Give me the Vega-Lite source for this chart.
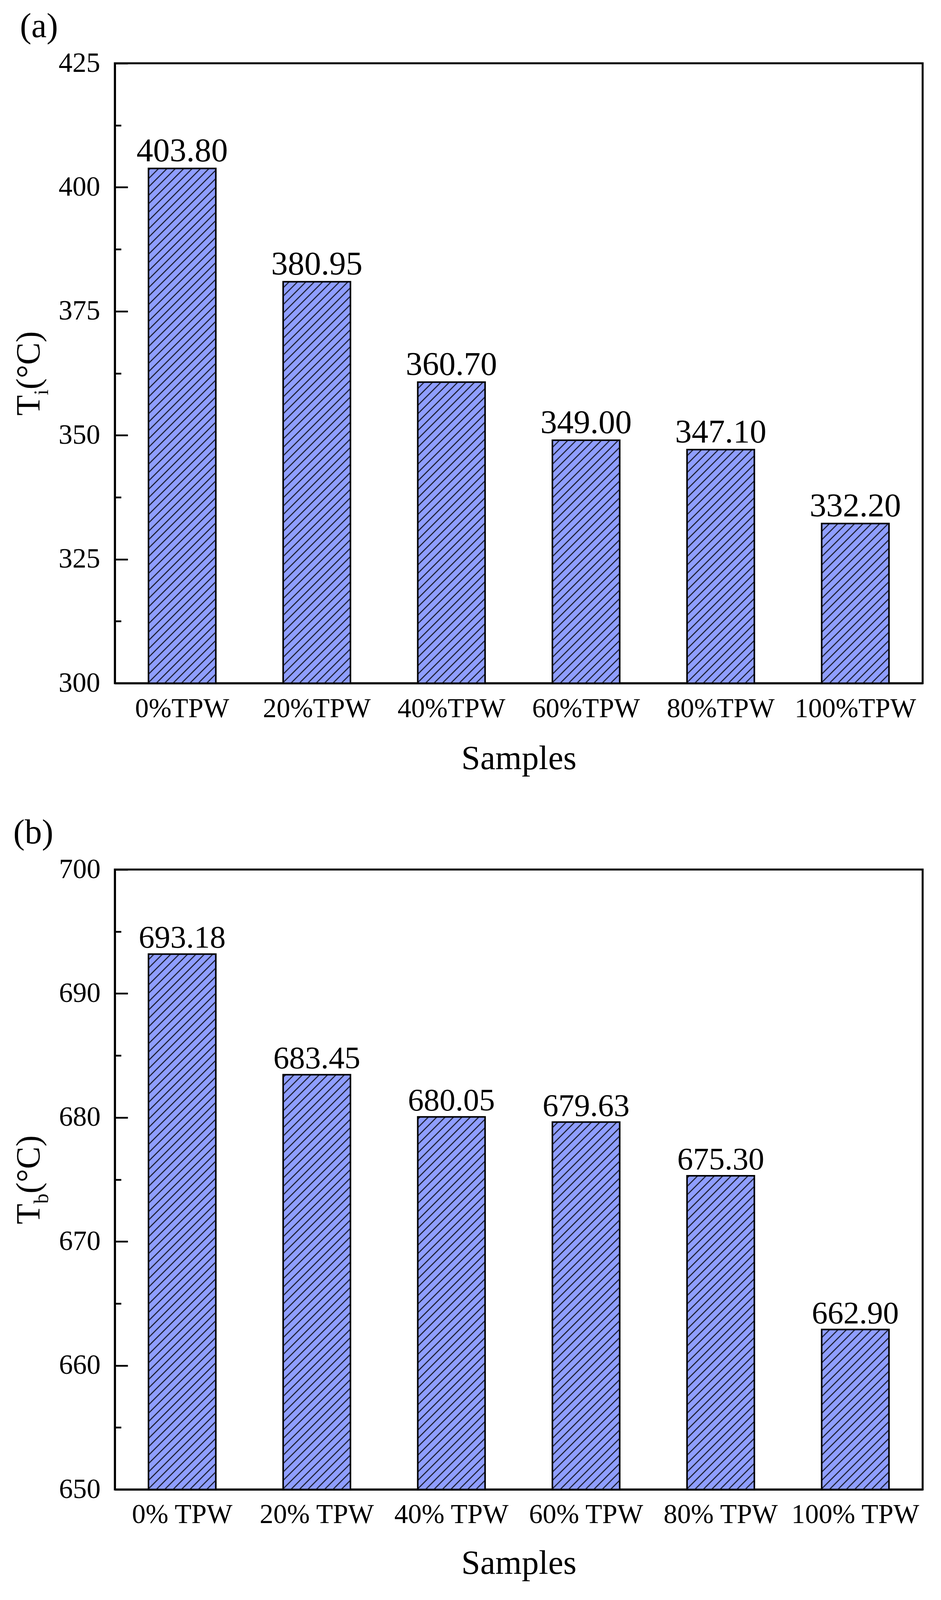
{
"$schema": "https://vega.github.io/schema/vega-lite/v6.json",
"background": "white",
"padding": {"left": 28, "top": 22, "right": 40, "bottom": 10},
"spacing": 98,
"datasets": {
"a": [
{"Sample": "0%TPW", "value": 403.80},
{"Sample": "20%TPW", "value": 380.95},
{"Sample": "40%TPW", "value": 360.70},
{"Sample": "60%TPW", "value": 349.00},
{"Sample": "80%TPW", "value": 347.10},
{"Sample": "100%TPW", "value": 332.20}
],
"b": [
{"Sample": "0% TPW", "value": 693.18},
{"Sample": "20% TPW", "value": 683.45},
{"Sample": "40% TPW", "value": 680.05},
{"Sample": "60% TPW", "value": 679.63},
{"Sample": "80% TPW", "value": 675.30},
{"Sample": "100% TPW", "value": 662.90}
]
},
"vconcat": [
{
"data": {"name": "a"},
"width": 2068,
"height": 1587,
"title": {"text": "(a)", "dx": -243},
"encoding": {
"x": {"field": "Sample", "type": "nominal", "sort": null,
"scale": {"paddingInner": 0.5, "paddingOuter": 0.25},
"axis": {"orient": "bottom", "zindex": 1, "domain": true, "domainColor": "#000", "domainWidth": 5, "ticks": false, "tickSize": 0, "labelAngle": 0, "labelFontSize": 70, "labelBaseline": "alphabetic", "labelPadding": 86, "labelLimit": 0, "title": "Samples", "titleFontSize": 87, "titleBaseline": "alphabetic", "titleY": 219}}
},
"layer": [
{"mark": {"type": "bar", "strokeWidth": 0, "fill": {"gradient": "linear", "x1": 0, "y1": 0, "x2": 0.12846, "y2": 1.1735, "stops": [
{"offset": 0, "color": "#8f9eff"}, {"offset": 0.0017, "color": "#000"}, {"offset": 0.0034, "color": "#8f9eff"},
{"offset": 0.0115, "color": "#8f9eff"}, {"offset": 0.0132, "color": "#000"}, {"offset": 0.0149, "color": "#8f9eff"},
{"offset": 0.023, "color": "#8f9eff"}, {"offset": 0.0247, "color": "#000"}, {"offset": 0.0264, "color": "#8f9eff"},
{"offset": 0.0345, "color": "#8f9eff"}, {"offset": 0.0362, "color": "#000"}, {"offset": 0.0379, "color": "#8f9eff"},
{"offset": 0.046, "color": "#8f9eff"}, {"offset": 0.0477, "color": "#000"}, {"offset": 0.0494, "color": "#8f9eff"},
{"offset": 0.0575, "color": "#8f9eff"}, {"offset": 0.0592, "color": "#000"}, {"offset": 0.0609, "color": "#8f9eff"},
{"offset": 0.069, "color": "#8f9eff"}, {"offset": 0.0707, "color": "#000"}, {"offset": 0.0724, "color": "#8f9eff"},
{"offset": 0.0805, "color": "#8f9eff"}, {"offset": 0.0822, "color": "#000"}, {"offset": 0.0839, "color": "#8f9eff"},
{"offset": 0.092, "color": "#8f9eff"}, {"offset": 0.0937, "color": "#000"}, {"offset": 0.0954, "color": "#8f9eff"},
{"offset": 0.1035, "color": "#8f9eff"}, {"offset": 0.1052, "color": "#000"}, {"offset": 0.1069, "color": "#8f9eff"},
{"offset": 0.115, "color": "#8f9eff"}, {"offset": 0.1167, "color": "#000"}, {"offset": 0.1184, "color": "#8f9eff"},
{"offset": 0.1265, "color": "#8f9eff"}, {"offset": 0.1282, "color": "#000"}, {"offset": 0.1299, "color": "#8f9eff"},
{"offset": 0.138, "color": "#8f9eff"}, {"offset": 0.1397, "color": "#000"}, {"offset": 0.1414, "color": "#8f9eff"},
{"offset": 0.1495, "color": "#8f9eff"}, {"offset": 0.1512, "color": "#000"}, {"offset": 0.1529, "color": "#8f9eff"},
{"offset": 0.161, "color": "#8f9eff"}, {"offset": 0.1627, "color": "#000"}, {"offset": 0.1644, "color": "#8f9eff"},
{"offset": 0.1725, "color": "#8f9eff"}, {"offset": 0.1742, "color": "#000"}, {"offset": 0.1759, "color": "#8f9eff"},
{"offset": 0.184, "color": "#8f9eff"}, {"offset": 0.1857, "color": "#000"}, {"offset": 0.1874, "color": "#8f9eff"},
{"offset": 0.1955, "color": "#8f9eff"}, {"offset": 0.1972, "color": "#000"}, {"offset": 0.1989, "color": "#8f9eff"},
{"offset": 0.207, "color": "#8f9eff"}, {"offset": 0.2087, "color": "#000"}, {"offset": 0.2104, "color": "#8f9eff"},
{"offset": 0.2185, "color": "#8f9eff"}, {"offset": 0.2202, "color": "#000"}, {"offset": 0.2219, "color": "#8f9eff"},
{"offset": 0.23, "color": "#8f9eff"}, {"offset": 0.2317, "color": "#000"}, {"offset": 0.2334, "color": "#8f9eff"},
{"offset": 0.2415, "color": "#8f9eff"}, {"offset": 0.2432, "color": "#000"}, {"offset": 0.2449, "color": "#8f9eff"},
{"offset": 0.253, "color": "#8f9eff"}, {"offset": 0.2547, "color": "#000"}, {"offset": 0.2564, "color": "#8f9eff"},
{"offset": 0.2645, "color": "#8f9eff"}, {"offset": 0.2662, "color": "#000"}, {"offset": 0.2679, "color": "#8f9eff"},
{"offset": 0.276, "color": "#8f9eff"}, {"offset": 0.2777, "color": "#000"}, {"offset": 0.2794, "color": "#8f9eff"},
{"offset": 0.2875, "color": "#8f9eff"}, {"offset": 0.2892, "color": "#000"}, {"offset": 0.2909, "color": "#8f9eff"},
{"offset": 0.299, "color": "#8f9eff"}, {"offset": 0.3007, "color": "#000"}, {"offset": 0.3024, "color": "#8f9eff"},
{"offset": 0.3105, "color": "#8f9eff"}, {"offset": 0.3122, "color": "#000"}, {"offset": 0.3139, "color": "#8f9eff"},
{"offset": 0.322, "color": "#8f9eff"}, {"offset": 0.3237, "color": "#000"}, {"offset": 0.3254, "color": "#8f9eff"},
{"offset": 0.3335, "color": "#8f9eff"}, {"offset": 0.3352, "color": "#000"}, {"offset": 0.3369, "color": "#8f9eff"},
{"offset": 0.345, "color": "#8f9eff"}, {"offset": 0.3467, "color": "#000"}, {"offset": 0.3484, "color": "#8f9eff"},
{"offset": 0.3565, "color": "#8f9eff"}, {"offset": 0.3582, "color": "#000"}, {"offset": 0.3599, "color": "#8f9eff"},
{"offset": 0.368, "color": "#8f9eff"}, {"offset": 0.3697, "color": "#000"}, {"offset": 0.3714, "color": "#8f9eff"},
{"offset": 0.3795, "color": "#8f9eff"}, {"offset": 0.3812, "color": "#000"}, {"offset": 0.3829, "color": "#8f9eff"},
{"offset": 0.391, "color": "#8f9eff"}, {"offset": 0.3927, "color": "#000"}, {"offset": 0.3944, "color": "#8f9eff"},
{"offset": 0.4025, "color": "#8f9eff"}, {"offset": 0.4042, "color": "#000"}, {"offset": 0.4059, "color": "#8f9eff"},
{"offset": 0.414, "color": "#8f9eff"}, {"offset": 0.4157, "color": "#000"}, {"offset": 0.4174, "color": "#8f9eff"},
{"offset": 0.4255, "color": "#8f9eff"}, {"offset": 0.4272, "color": "#000"}, {"offset": 0.4289, "color": "#8f9eff"},
{"offset": 0.437, "color": "#8f9eff"}, {"offset": 0.4387, "color": "#000"}, {"offset": 0.4404, "color": "#8f9eff"},
{"offset": 0.4485, "color": "#8f9eff"}, {"offset": 0.4502, "color": "#000"}, {"offset": 0.4519, "color": "#8f9eff"},
{"offset": 0.46, "color": "#8f9eff"}, {"offset": 0.4617, "color": "#000"}, {"offset": 0.4634, "color": "#8f9eff"},
{"offset": 0.4715, "color": "#8f9eff"}, {"offset": 0.4732, "color": "#000"}, {"offset": 0.4749, "color": "#8f9eff"},
{"offset": 0.483, "color": "#8f9eff"}, {"offset": 0.4847, "color": "#000"}, {"offset": 0.4864, "color": "#8f9eff"},
{"offset": 0.4945, "color": "#8f9eff"}, {"offset": 0.4962, "color": "#000"}, {"offset": 0.4979, "color": "#8f9eff"},
{"offset": 0.506, "color": "#8f9eff"}, {"offset": 0.5077, "color": "#000"}, {"offset": 0.5094, "color": "#8f9eff"},
{"offset": 0.5175, "color": "#8f9eff"}, {"offset": 0.5192, "color": "#000"}, {"offset": 0.5209, "color": "#8f9eff"},
{"offset": 0.529, "color": "#8f9eff"}, {"offset": 0.5307, "color": "#000"}, {"offset": 0.5324, "color": "#8f9eff"},
{"offset": 0.5405, "color": "#8f9eff"}, {"offset": 0.5422, "color": "#000"}, {"offset": 0.5439, "color": "#8f9eff"},
{"offset": 0.552, "color": "#8f9eff"}, {"offset": 0.5537, "color": "#000"}, {"offset": 0.5554, "color": "#8f9eff"},
{"offset": 0.5635, "color": "#8f9eff"}, {"offset": 0.5652, "color": "#000"}, {"offset": 0.5669, "color": "#8f9eff"},
{"offset": 0.575, "color": "#8f9eff"}, {"offset": 0.5767, "color": "#000"}, {"offset": 0.5784, "color": "#8f9eff"},
{"offset": 0.5865, "color": "#8f9eff"}, {"offset": 0.5882, "color": "#000"}, {"offset": 0.5899, "color": "#8f9eff"},
{"offset": 0.598, "color": "#8f9eff"}, {"offset": 0.5997, "color": "#000"}, {"offset": 0.6014, "color": "#8f9eff"},
{"offset": 0.6095, "color": "#8f9eff"}, {"offset": 0.6112, "color": "#000"}, {"offset": 0.6129, "color": "#8f9eff"},
{"offset": 0.621, "color": "#8f9eff"}, {"offset": 0.6227, "color": "#000"}, {"offset": 0.6244, "color": "#8f9eff"},
{"offset": 0.6325, "color": "#8f9eff"}, {"offset": 0.6342, "color": "#000"}, {"offset": 0.6359, "color": "#8f9eff"},
{"offset": 0.644, "color": "#8f9eff"}, {"offset": 0.6457, "color": "#000"}, {"offset": 0.6474, "color": "#8f9eff"},
{"offset": 0.6555, "color": "#8f9eff"}, {"offset": 0.6572, "color": "#000"}, {"offset": 0.6589, "color": "#8f9eff"},
{"offset": 0.667, "color": "#8f9eff"}, {"offset": 0.6687, "color": "#000"}, {"offset": 0.6704, "color": "#8f9eff"},
{"offset": 0.6785, "color": "#8f9eff"}, {"offset": 0.6802, "color": "#000"}, {"offset": 0.6819, "color": "#8f9eff"},
{"offset": 0.69, "color": "#8f9eff"}, {"offset": 0.6917, "color": "#000"}, {"offset": 0.6934, "color": "#8f9eff"},
{"offset": 0.7015, "color": "#8f9eff"}, {"offset": 0.7032, "color": "#000"}, {"offset": 0.7049, "color": "#8f9eff"},
{"offset": 0.713, "color": "#8f9eff"}, {"offset": 0.7147, "color": "#000"}, {"offset": 0.7164, "color": "#8f9eff"},
{"offset": 0.7245, "color": "#8f9eff"}, {"offset": 0.7262, "color": "#000"}, {"offset": 0.7279, "color": "#8f9eff"},
{"offset": 0.736, "color": "#8f9eff"}, {"offset": 0.7377, "color": "#000"}, {"offset": 0.7394, "color": "#8f9eff"},
{"offset": 0.7475, "color": "#8f9eff"}, {"offset": 0.7492, "color": "#000"}, {"offset": 0.7509, "color": "#8f9eff"},
{"offset": 0.759, "color": "#8f9eff"}, {"offset": 0.7607, "color": "#000"}, {"offset": 0.7624, "color": "#8f9eff"},
{"offset": 0.7705, "color": "#8f9eff"}, {"offset": 0.7722, "color": "#000"}, {"offset": 0.7739, "color": "#8f9eff"},
{"offset": 0.782, "color": "#8f9eff"}, {"offset": 0.7837, "color": "#000"}, {"offset": 0.7854, "color": "#8f9eff"},
{"offset": 0.7935, "color": "#8f9eff"}, {"offset": 0.7952, "color": "#000"}, {"offset": 0.7969, "color": "#8f9eff"},
{"offset": 0.805, "color": "#8f9eff"}, {"offset": 0.8067, "color": "#000"}, {"offset": 0.8084, "color": "#8f9eff"},
{"offset": 0.8165, "color": "#8f9eff"}, {"offset": 0.8182, "color": "#000"}, {"offset": 0.8199, "color": "#8f9eff"},
{"offset": 0.828, "color": "#8f9eff"}, {"offset": 0.8297, "color": "#000"}, {"offset": 0.8314, "color": "#8f9eff"},
{"offset": 0.8395, "color": "#8f9eff"}, {"offset": 0.8412, "color": "#000"}, {"offset": 0.8429, "color": "#8f9eff"},
{"offset": 0.851, "color": "#8f9eff"}, {"offset": 0.8527, "color": "#000"}, {"offset": 0.8544, "color": "#8f9eff"},
{"offset": 0.8625, "color": "#8f9eff"}, {"offset": 0.8642, "color": "#000"}, {"offset": 0.8659, "color": "#8f9eff"},
{"offset": 0.874, "color": "#8f9eff"}, {"offset": 0.8757, "color": "#000"}, {"offset": 0.8774, "color": "#8f9eff"},
{"offset": 0.8855, "color": "#8f9eff"}, {"offset": 0.8872, "color": "#000"}, {"offset": 0.8889, "color": "#8f9eff"},
{"offset": 0.897, "color": "#8f9eff"}, {"offset": 0.8987, "color": "#000"}, {"offset": 0.9004, "color": "#8f9eff"},
{"offset": 0.9085, "color": "#8f9eff"}, {"offset": 0.9102, "color": "#000"}, {"offset": 0.9119, "color": "#8f9eff"},
{"offset": 0.92, "color": "#8f9eff"}, {"offset": 0.9217, "color": "#000"}, {"offset": 0.9234, "color": "#8f9eff"},
{"offset": 0.9315, "color": "#8f9eff"}, {"offset": 0.9332, "color": "#000"}, {"offset": 0.9349, "color": "#8f9eff"},
{"offset": 1, "color": "#8f9eff"}
]}},
"encoding": {
"y": {"datum": 300, "type": "quantitative", "scale": {"domain": [300, 425], "nice": false, "zero": false},
"axis": {"orient": "left", "zindex": 1, "values": [300, 325, 350, 375, 400, 425], "domain": true, "domainColor": "#000", "domainWidth": 5, "ticks": true, "tickSize": -33, "tickWidth": 4.5, "tickColor": "#000", "labelFontSize": 71, "labelPadding": 71, "labelOverlap": false, "title": "T", "titleFontSize": 86, "titleAngle": 270, "titleAlign": "right", "titleBaseline": "alphabetic", "titleX": -194, "titleY": 849}},
"y2": {"datum": 424}}},
{"mark": {"type": "bar", "fill": "white", "strokeWidth": 0, "width": {"band": 1.06}},
"encoding": {
"y": {"field": "value", "type": "quantitative", "scale": {"domain": [300, 425], "nice": false, "zero": false},
"axis": {"orient": "left", "zindex": 1, "values": [312.5, 337.5, 362.5, 387.5, 412.5], "domain": false, "labels": false, "ticks": true, "tickSize": -16, "tickWidth": 4.5, "tickColor": "#000", "title": "i", "titleFontSize": 52, "titleAngle": 270, "titleAlign": "left", "titleBaseline": "alphabetic", "titleX": -172, "titleY": 849}},
"y2": {"datum": 424.3}}},
{"mark": {"type": "bar", "fill": "transparent", "stroke": "#000", "strokeWidth": 4},
"encoding": {
"y": {"field": "value", "type": "quantitative", "scale": {"domain": [300, 425], "nice": false, "zero": false},
"axis": {"orient": "left", "domain": false, "labels": false, "ticks": false, "title": "(°C)", "titleFontSize": 86, "titleAngle": 270, "titleAlign": "left", "titleBaseline": "alphabetic", "titleX": -194, "titleY": 834.5}},
"y2": {"datum": 300}}},
{"mark": {"type": "text", "fontSize": 85, "baseline": "alphabetic", "dy": -18, "color": "#000"},
"encoding": {
"y": {"field": "value", "type": "quantitative", "scale": {"domain": [300, 425], "nice": false, "zero": false}, "axis": null},
"text": {"field": "value", "type": "quantitative", "format": ".2f"}}}
],
"resolve": {"axis": {"y": "independent"}}
},
{
"data": {"name": "b"},
"width": 2068,
"height": 1587,
"title": {"text": "(b)", "dx": -260},
"encoding": {
"x": {"field": "Sample", "type": "nominal", "sort": null,
"scale": {"paddingInner": 0.5, "paddingOuter": 0.25},
"axis": {"orient": "bottom", "zindex": 1, "domain": true, "domainColor": "#000", "domainWidth": 5, "ticks": false, "tickSize": 0, "labelAngle": 0, "labelFontSize": 70, "labelBaseline": "alphabetic", "labelPadding": 85, "labelLimit": 0, "title": "Samples", "titleFontSize": 87, "titleBaseline": "alphabetic", "titleY": 215}}
},
"layer": [
{"mark": {"type": "bar", "strokeWidth": 0, "fill": {"gradient": "linear", "x1": 0, "y1": 0, "x2": 0.12846, "y2": 1.1735, "stops": [
{"offset": 0, "color": "#8f9eff"}, {"offset": 0.0017, "color": "#000"}, {"offset": 0.0034, "color": "#8f9eff"},
{"offset": 0.0115, "color": "#8f9eff"}, {"offset": 0.0132, "color": "#000"}, {"offset": 0.0149, "color": "#8f9eff"},
{"offset": 0.023, "color": "#8f9eff"}, {"offset": 0.0247, "color": "#000"}, {"offset": 0.0264, "color": "#8f9eff"},
{"offset": 0.0345, "color": "#8f9eff"}, {"offset": 0.0362, "color": "#000"}, {"offset": 0.0379, "color": "#8f9eff"},
{"offset": 0.046, "color": "#8f9eff"}, {"offset": 0.0477, "color": "#000"}, {"offset": 0.0494, "color": "#8f9eff"},
{"offset": 0.0575, "color": "#8f9eff"}, {"offset": 0.0592, "color": "#000"}, {"offset": 0.0609, "color": "#8f9eff"},
{"offset": 0.069, "color": "#8f9eff"}, {"offset": 0.0707, "color": "#000"}, {"offset": 0.0724, "color": "#8f9eff"},
{"offset": 0.0805, "color": "#8f9eff"}, {"offset": 0.0822, "color": "#000"}, {"offset": 0.0839, "color": "#8f9eff"},
{"offset": 0.092, "color": "#8f9eff"}, {"offset": 0.0937, "color": "#000"}, {"offset": 0.0954, "color": "#8f9eff"},
{"offset": 0.1035, "color": "#8f9eff"}, {"offset": 0.1052, "color": "#000"}, {"offset": 0.1069, "color": "#8f9eff"},
{"offset": 0.115, "color": "#8f9eff"}, {"offset": 0.1167, "color": "#000"}, {"offset": 0.1184, "color": "#8f9eff"},
{"offset": 0.1265, "color": "#8f9eff"}, {"offset": 0.1282, "color": "#000"}, {"offset": 0.1299, "color": "#8f9eff"},
{"offset": 0.138, "color": "#8f9eff"}, {"offset": 0.1397, "color": "#000"}, {"offset": 0.1414, "color": "#8f9eff"},
{"offset": 0.1495, "color": "#8f9eff"}, {"offset": 0.1512, "color": "#000"}, {"offset": 0.1529, "color": "#8f9eff"},
{"offset": 0.161, "color": "#8f9eff"}, {"offset": 0.1627, "color": "#000"}, {"offset": 0.1644, "color": "#8f9eff"},
{"offset": 0.1725, "color": "#8f9eff"}, {"offset": 0.1742, "color": "#000"}, {"offset": 0.1759, "color": "#8f9eff"},
{"offset": 0.184, "color": "#8f9eff"}, {"offset": 0.1857, "color": "#000"}, {"offset": 0.1874, "color": "#8f9eff"},
{"offset": 0.1955, "color": "#8f9eff"}, {"offset": 0.1972, "color": "#000"}, {"offset": 0.1989, "color": "#8f9eff"},
{"offset": 0.207, "color": "#8f9eff"}, {"offset": 0.2087, "color": "#000"}, {"offset": 0.2104, "color": "#8f9eff"},
{"offset": 0.2185, "color": "#8f9eff"}, {"offset": 0.2202, "color": "#000"}, {"offset": 0.2219, "color": "#8f9eff"},
{"offset": 0.23, "color": "#8f9eff"}, {"offset": 0.2317, "color": "#000"}, {"offset": 0.2334, "color": "#8f9eff"},
{"offset": 0.2415, "color": "#8f9eff"}, {"offset": 0.2432, "color": "#000"}, {"offset": 0.2449, "color": "#8f9eff"},
{"offset": 0.253, "color": "#8f9eff"}, {"offset": 0.2547, "color": "#000"}, {"offset": 0.2564, "color": "#8f9eff"},
{"offset": 0.2645, "color": "#8f9eff"}, {"offset": 0.2662, "color": "#000"}, {"offset": 0.2679, "color": "#8f9eff"},
{"offset": 0.276, "color": "#8f9eff"}, {"offset": 0.2777, "color": "#000"}, {"offset": 0.2794, "color": "#8f9eff"},
{"offset": 0.2875, "color": "#8f9eff"}, {"offset": 0.2892, "color": "#000"}, {"offset": 0.2909, "color": "#8f9eff"},
{"offset": 0.299, "color": "#8f9eff"}, {"offset": 0.3007, "color": "#000"}, {"offset": 0.3024, "color": "#8f9eff"},
{"offset": 0.3105, "color": "#8f9eff"}, {"offset": 0.3122, "color": "#000"}, {"offset": 0.3139, "color": "#8f9eff"},
{"offset": 0.322, "color": "#8f9eff"}, {"offset": 0.3237, "color": "#000"}, {"offset": 0.3254, "color": "#8f9eff"},
{"offset": 0.3335, "color": "#8f9eff"}, {"offset": 0.3352, "color": "#000"}, {"offset": 0.3369, "color": "#8f9eff"},
{"offset": 0.345, "color": "#8f9eff"}, {"offset": 0.3467, "color": "#000"}, {"offset": 0.3484, "color": "#8f9eff"},
{"offset": 0.3565, "color": "#8f9eff"}, {"offset": 0.3582, "color": "#000"}, {"offset": 0.3599, "color": "#8f9eff"},
{"offset": 0.368, "color": "#8f9eff"}, {"offset": 0.3697, "color": "#000"}, {"offset": 0.3714, "color": "#8f9eff"},
{"offset": 0.3795, "color": "#8f9eff"}, {"offset": 0.3812, "color": "#000"}, {"offset": 0.3829, "color": "#8f9eff"},
{"offset": 0.391, "color": "#8f9eff"}, {"offset": 0.3927, "color": "#000"}, {"offset": 0.3944, "color": "#8f9eff"},
{"offset": 0.4025, "color": "#8f9eff"}, {"offset": 0.4042, "color": "#000"}, {"offset": 0.4059, "color": "#8f9eff"},
{"offset": 0.414, "color": "#8f9eff"}, {"offset": 0.4157, "color": "#000"}, {"offset": 0.4174, "color": "#8f9eff"},
{"offset": 0.4255, "color": "#8f9eff"}, {"offset": 0.4272, "color": "#000"}, {"offset": 0.4289, "color": "#8f9eff"},
{"offset": 0.437, "color": "#8f9eff"}, {"offset": 0.4387, "color": "#000"}, {"offset": 0.4404, "color": "#8f9eff"},
{"offset": 0.4485, "color": "#8f9eff"}, {"offset": 0.4502, "color": "#000"}, {"offset": 0.4519, "color": "#8f9eff"},
{"offset": 0.46, "color": "#8f9eff"}, {"offset": 0.4617, "color": "#000"}, {"offset": 0.4634, "color": "#8f9eff"},
{"offset": 0.4715, "color": "#8f9eff"}, {"offset": 0.4732, "color": "#000"}, {"offset": 0.4749, "color": "#8f9eff"},
{"offset": 0.483, "color": "#8f9eff"}, {"offset": 0.4847, "color": "#000"}, {"offset": 0.4864, "color": "#8f9eff"},
{"offset": 0.4945, "color": "#8f9eff"}, {"offset": 0.4962, "color": "#000"}, {"offset": 0.4979, "color": "#8f9eff"},
{"offset": 0.506, "color": "#8f9eff"}, {"offset": 0.5077, "color": "#000"}, {"offset": 0.5094, "color": "#8f9eff"},
{"offset": 0.5175, "color": "#8f9eff"}, {"offset": 0.5192, "color": "#000"}, {"offset": 0.5209, "color": "#8f9eff"},
{"offset": 0.529, "color": "#8f9eff"}, {"offset": 0.5307, "color": "#000"}, {"offset": 0.5324, "color": "#8f9eff"},
{"offset": 0.5405, "color": "#8f9eff"}, {"offset": 0.5422, "color": "#000"}, {"offset": 0.5439, "color": "#8f9eff"},
{"offset": 0.552, "color": "#8f9eff"}, {"offset": 0.5537, "color": "#000"}, {"offset": 0.5554, "color": "#8f9eff"},
{"offset": 0.5635, "color": "#8f9eff"}, {"offset": 0.5652, "color": "#000"}, {"offset": 0.5669, "color": "#8f9eff"},
{"offset": 0.575, "color": "#8f9eff"}, {"offset": 0.5767, "color": "#000"}, {"offset": 0.5784, "color": "#8f9eff"},
{"offset": 0.5865, "color": "#8f9eff"}, {"offset": 0.5882, "color": "#000"}, {"offset": 0.5899, "color": "#8f9eff"},
{"offset": 0.598, "color": "#8f9eff"}, {"offset": 0.5997, "color": "#000"}, {"offset": 0.6014, "color": "#8f9eff"},
{"offset": 0.6095, "color": "#8f9eff"}, {"offset": 0.6112, "color": "#000"}, {"offset": 0.6129, "color": "#8f9eff"},
{"offset": 0.621, "color": "#8f9eff"}, {"offset": 0.6227, "color": "#000"}, {"offset": 0.6244, "color": "#8f9eff"},
{"offset": 0.6325, "color": "#8f9eff"}, {"offset": 0.6342, "color": "#000"}, {"offset": 0.6359, "color": "#8f9eff"},
{"offset": 0.644, "color": "#8f9eff"}, {"offset": 0.6457, "color": "#000"}, {"offset": 0.6474, "color": "#8f9eff"},
{"offset": 0.6555, "color": "#8f9eff"}, {"offset": 0.6572, "color": "#000"}, {"offset": 0.6589, "color": "#8f9eff"},
{"offset": 0.667, "color": "#8f9eff"}, {"offset": 0.6687, "color": "#000"}, {"offset": 0.6704, "color": "#8f9eff"},
{"offset": 0.6785, "color": "#8f9eff"}, {"offset": 0.6802, "color": "#000"}, {"offset": 0.6819, "color": "#8f9eff"},
{"offset": 0.69, "color": "#8f9eff"}, {"offset": 0.6917, "color": "#000"}, {"offset": 0.6934, "color": "#8f9eff"},
{"offset": 0.7015, "color": "#8f9eff"}, {"offset": 0.7032, "color": "#000"}, {"offset": 0.7049, "color": "#8f9eff"},
{"offset": 0.713, "color": "#8f9eff"}, {"offset": 0.7147, "color": "#000"}, {"offset": 0.7164, "color": "#8f9eff"},
{"offset": 0.7245, "color": "#8f9eff"}, {"offset": 0.7262, "color": "#000"}, {"offset": 0.7279, "color": "#8f9eff"},
{"offset": 0.736, "color": "#8f9eff"}, {"offset": 0.7377, "color": "#000"}, {"offset": 0.7394, "color": "#8f9eff"},
{"offset": 0.7475, "color": "#8f9eff"}, {"offset": 0.7492, "color": "#000"}, {"offset": 0.7509, "color": "#8f9eff"},
{"offset": 0.759, "color": "#8f9eff"}, {"offset": 0.7607, "color": "#000"}, {"offset": 0.7624, "color": "#8f9eff"},
{"offset": 0.7705, "color": "#8f9eff"}, {"offset": 0.7722, "color": "#000"}, {"offset": 0.7739, "color": "#8f9eff"},
{"offset": 0.782, "color": "#8f9eff"}, {"offset": 0.7837, "color": "#000"}, {"offset": 0.7854, "color": "#8f9eff"},
{"offset": 0.7935, "color": "#8f9eff"}, {"offset": 0.7952, "color": "#000"}, {"offset": 0.7969, "color": "#8f9eff"},
{"offset": 0.805, "color": "#8f9eff"}, {"offset": 0.8067, "color": "#000"}, {"offset": 0.8084, "color": "#8f9eff"},
{"offset": 0.8165, "color": "#8f9eff"}, {"offset": 0.8182, "color": "#000"}, {"offset": 0.8199, "color": "#8f9eff"},
{"offset": 0.828, "color": "#8f9eff"}, {"offset": 0.8297, "color": "#000"}, {"offset": 0.8314, "color": "#8f9eff"},
{"offset": 0.8395, "color": "#8f9eff"}, {"offset": 0.8412, "color": "#000"}, {"offset": 0.8429, "color": "#8f9eff"},
{"offset": 0.851, "color": "#8f9eff"}, {"offset": 0.8527, "color": "#000"}, {"offset": 0.8544, "color": "#8f9eff"},
{"offset": 0.8625, "color": "#8f9eff"}, {"offset": 0.8642, "color": "#000"}, {"offset": 0.8659, "color": "#8f9eff"},
{"offset": 0.874, "color": "#8f9eff"}, {"offset": 0.8757, "color": "#000"}, {"offset": 0.8774, "color": "#8f9eff"},
{"offset": 0.8855, "color": "#8f9eff"}, {"offset": 0.8872, "color": "#000"}, {"offset": 0.8889, "color": "#8f9eff"},
{"offset": 0.897, "color": "#8f9eff"}, {"offset": 0.8987, "color": "#000"}, {"offset": 0.9004, "color": "#8f9eff"},
{"offset": 0.9085, "color": "#8f9eff"}, {"offset": 0.9102, "color": "#000"}, {"offset": 0.9119, "color": "#8f9eff"},
{"offset": 0.92, "color": "#8f9eff"}, {"offset": 0.9217, "color": "#000"}, {"offset": 0.9234, "color": "#8f9eff"},
{"offset": 0.9315, "color": "#8f9eff"}, {"offset": 0.9332, "color": "#000"}, {"offset": 0.9349, "color": "#8f9eff"},
{"offset": 1, "color": "#8f9eff"}
]}},
"encoding": {
"y": {"datum": 650, "type": "quantitative", "scale": {"domain": [650, 700], "nice": false, "zero": false},
"axis": {"orient": "left", "zindex": 1, "values": [650, 660, 670, 680, 690, 700], "domain": true, "domainColor": "#000", "domainWidth": 5, "ticks": true, "tickSize": -33, "tickWidth": 4.5, "tickColor": "#000", "labelFontSize": 71, "labelPadding": 70, "labelOverlap": false, "title": "T", "titleFontSize": 86, "titleAngle": 270, "titleAlign": "right", "titleBaseline": "alphabetic", "titleX": -194, "titleY": 855}},
"y2": {"datum": 699.6}}},
{"mark": {"type": "bar", "fill": "white", "strokeWidth": 0, "width": {"band": 1.06}},
"encoding": {
"y": {"field": "value", "type": "quantitative", "scale": {"domain": [650, 700], "nice": false, "zero": false},
"axis": {"orient": "left", "zindex": 1, "values": [655, 665, 675, 685, 695], "domain": false, "labels": false, "ticks": true, "tickSize": -16, "tickWidth": 4.5, "tickColor": "#000", "title": "b", "titleFontSize": 52, "titleAngle": 270, "titleAlign": "left", "titleBaseline": "alphabetic", "titleX": -172, "titleY": 855}},
"y2": {"datum": 699.72}}},
{"mark": {"type": "bar", "fill": "transparent", "stroke": "#000", "strokeWidth": 4},
"encoding": {
"y": {"field": "value", "type": "quantitative", "scale": {"domain": [650, 700], "nice": false, "zero": false},
"axis": {"orient": "left", "domain": false, "labels": false, "ticks": false, "title": "(°C)", "titleFontSize": 86, "titleAngle": 270, "titleAlign": "left", "titleBaseline": "alphabetic", "titleX": -194, "titleY": 829}},
"y2": {"datum": 650}}},
{"mark": {"type": "text", "fontSize": 81, "baseline": "alphabetic", "dy": -16, "color": "#000"},
"encoding": {
"y": {"field": "value", "type": "quantitative", "scale": {"domain": [650, 700], "nice": false, "zero": false}, "axis": null},
"text": {"field": "value", "type": "quantitative", "format": ".2f"}}}
],
"resolve": {"axis": {"y": "independent"}}
}
],
"config": {
"font": "Liberation Serif",
"view": {"stroke": "#000", "strokeWidth": 5},
"axis": {"labelFont": "Liberation Serif", "titleFont": "Liberation Serif", "labelColor": "#000", "titleColor": "#000", "titleFontWeight": "normal", "grid": false, "labelLimit": 0},
"title": {"anchor": "start", "frame": "group", "font": "Liberation Serif", "fontSize": 88, "fontWeight": "normal", "color": "#000", "baseline": "alphabetic", "offset": 13}
}
}
